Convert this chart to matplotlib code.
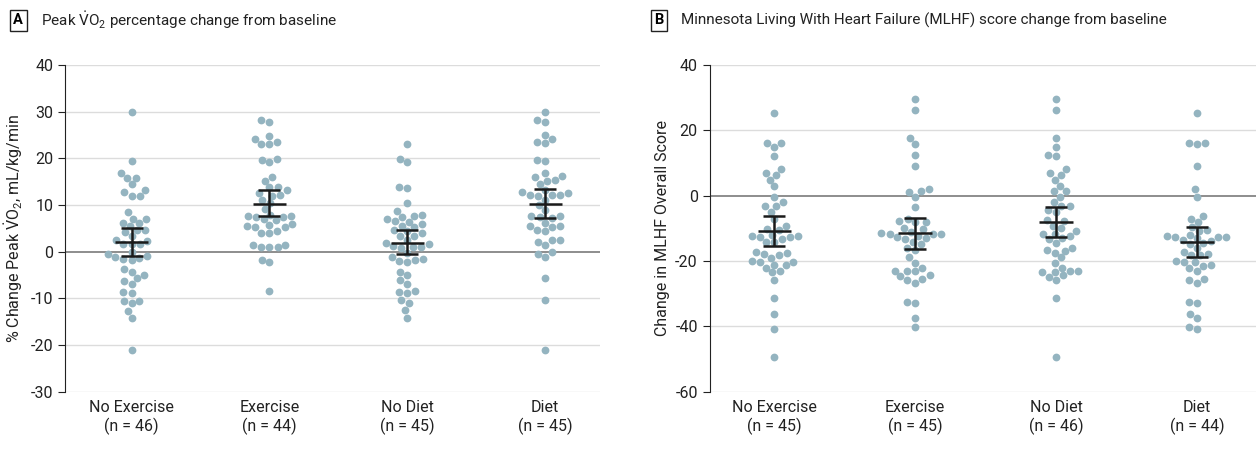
import matplotlib
matplotlib.use("Agg")
import matplotlib.pyplot as plt
import numpy as np
import pandas as pd
import seaborn as sns

plt.rcParams['font.family'] = ['Roboto', 'DejaVu Sans']
plt.rcParams['mathtext.fontset'] = 'custom'
plt.rcParams['mathtext.rm'] = 'Roboto'
plt.rcParams['mathtext.it'] = 'Roboto:italic'

# panel A: peak VO2 % change
a_labels = ["No Exercise\n(n = 46)", "Exercise\n(n = 44)", "No Diet\n(n = 45)", "Diet\n(n = 45)"]
a_no_ex = [29.9, 19.4, 16.9, 15.8, 15.8, 14.4, 13.3, 12.7, 12.0, 12.0,
           8.5, 7.1, 7.1, 6.1, 5.5, 6.2, 4.6, 4.3, 4.6, 3.4,
           2.5, 2.3, 1.6, 1.6, 1.6, -0.1, -0.5, -1.2, -1.6, -1.8,
           -1.4, -0.9, -3.7, -4.4, -5.0, -5.7, -6.2, -7.0, -8.6, -8.8,
           -10.5, -10.5, -11.0, -12.6, -14.1, -21.1]
a_ex = [27.8, 28.1, 24.1, 23.1, 23.1, 23.4, 24.8, 19.9, 19.1, 19.7,
        16.0, 15.2, 13.8, 12.6, 12.0, 12.2, 13.1, 13.9, 11.1, 10.4,
        9.1, 7.9, 7.6, 7.4, 6.7, 6.9, 7.4, 7.7, 5.9, 5.4,
        5.2, 4.1, 4.0, 4.5, 5.2, 5.7, 1.5, 1.0, 0.9, 1.0,
        1.4, -1.8, -2.3, -8.5]
a_no_diet = [23.1, 19.1, 19.9, 13.9, 13.7, 10.5, 8.6, 7.9, 7.7, 6.9,
             6.4, 5.6, 5.9, 6.6, 7.4, 5.2, 4.4, 3.4, 3.4, 4.1,
             4.6, 1.7, 1.0, 0.8, 0.9, 1.3, 1.9, 2.6, -0.3, -1.2,
             -1.9, -1.5, -2.3, -1.7, -4.9, -4.4, -6.1, -7.0, -8.5, -8.9,
             -8.6, -10.4, -11.0, -12.5, -14.1]
a_diet = [29.9, 27.8, 28.1, 24.9, 23.4, 23.2, 24.1, 19.4, 19.7, 16.9,
          15.9, 15.4, 15.2, 16.1, 14.5, 13.3, 12.6, 12.1, 11.9, 12.1,
          12.2, 12.7, 11.1, 10.0, 9.0, 7.7, 7.2, 7.4, 7.6, 6.2,
          5.4, 4.7, 4.4, 5.2, 5.6, 2.4, 1.4, 2.0, 2.6, -0.4,
          -1.1, -0.1, -5.7, -10.4, -21.0]
a_mean = [2.0, 10.3, 1.9, 10.3]
a_lo = [-0.9, 7.7, -0.6, 7.2]
a_hi = [5.0, 13.1, 4.6, 13.4]

# panel B: MLHF score change
b_labels = ["No Exercise\n(n = 45)", "Exercise\n(n = 45)", "No Diet\n(n = 46)", "Diet\n(n = 44)"]
b_no_ex = [25.4, 16.0, 15.0, 16.2, 12.1, 8.2, 6.4, 4.9, 7.0, 3.0,
           -0.3, -3.1, -3.1, -2.1, -4.9, -9.2, -10.6, -7.0, -10.2, -12.0,
           -12.3, -12.7, -14.3, -14.3, -13.3, -12.7, -12.3, -17.4, -18.2, -17.8,
           -17.2, -20.0, -20.3, -21.2, -23.0, -22.0, -23.5, -21.2, -20.2, -19.0,
           -25.8, -31.4, -36.2, -40.8, -49.4]
b_ex = [29.5, 26.1, 15.8, 17.6, 12.3, 9.2, 2.0, 1.2, -0.3, 1.5,
        -3.6, -7.0, -8.2, -8.2, -7.9, -9.8, -10.3, -12.2, -11.5, -11.7,
        -13.0, -14.1, -11.8, -11.8, -13.3, -12.6, -11.0, -14.8, -15.9, -16.6,
        -18.9, -20.5, -22.0, -23.0, -24.3, -25.4, -23.2, -26.6, -25.9, -23.0,
        -24.7, -32.4, -32.8, -37.3, -40.3]
b_no_diet = [29.5, 26.1, 17.6, 15.0, 12.2, 12.4, 8.2, 6.9, 6.4, 4.9,
             3.0, 1.3, 1.4, -0.3, -2.0, -3.1, -3.1, -4.9, -4.4, -7.9,
             -9.2, -7.5, -10.0, -11.8, -12.2, -13.3, -10.7, -13.0, -11.8, -14.5,
             -15.9, -16.8, -17.4, -16.6, -18.9, -20.6, -22.0, -23.2, -23.3, -24.4,
             -25.8, -24.8, -23.4, -23.1, -31.4, -49.4]
b_diet = [25.4, 16.0, 15.8, 16.1, 9.2, 2.0, -0.3, -7.1, -6.3, -8.2,
          -9.6, -10.8, -10.5, -12.6, -12.8, -13.1, -12.8, -12.5, -12.1, -13.5,
          -14.0, -14.7, -14.5, -16.0, -17.8, -18.3, -17.3, -18.3, -20.3, -21.4,
          -19.9, -21.1, -20.3, -23.1, -22.2, -25.9, -26.6, -25.5, -32.9, -32.4,
          -36.2, -37.4, -40.8, -40.3]
b_mean = [-10.8, -11.5, -8.1, -14.2]
b_lo = [-15.4, -16.2, -12.6, -18.7]
b_hi = [-6.2, -6.8, -3.5, -9.7]

dot_color = "#94B4C0"

fig = plt.figure(figsize=(12.56, 4.53), dpi=100)
axA = fig.add_axes([0.052, 0.135, 0.426, 0.722])
axB = fig.add_axes([0.565, 0.135, 0.435, 0.722])


def panel(ax, groups, labels, mean, lo, hi, yticks, xlim):
    rows = []
    for i, g in enumerate(groups):
        for v in g:
            rows.append((labels[i], v))
    df = pd.DataFrame(rows, columns=["grp", "val"])
    ax.set_xlim(*xlim)
    ax.set_ylim(yticks[0], yticks[-1])
    sns.swarmplot(data=df, x="grp", y="val", order=labels, color=dot_color,
                  size=5.6, linewidth=0, ax=ax, zorder=3, warn_thresh=1)
    ax.set_xlim(*xlim)
    ax.set_ylim(yticks[0], yticks[-1])
    x = np.arange(len(labels))
    m = np.array(mean)
    ax.errorbar(x, m, yerr=[m - np.array(lo), np.array(hi) - m], fmt="none",
                ecolor="#1a1a1a", elinewidth=1.8, capsize=8, capthick=1.8, zorder=5)
    ax.hlines(m, x - 0.12, x + 0.12, color="#1a1a1a", lw=1.8, zorder=5)
    ax.set_yticks(yticks)
    ax.set_yticklabels([str(t) if t >= 0 else "-" + str(-t) for t in yticks])
    for t in yticks:
        if t != 0:
            ax.axhline(t, color="#dcdcdc", lw=1, zorder=1)
    ax.axhline(0, color="#7a7a7a", lw=1.2, zorder=2)
    for s in ["top", "right", "bottom"]:
        ax.spines[s].set_visible(False)
    ax.spines["left"].set_color("#222222")
    ax.tick_params(axis="y", length=5, color="#222222", labelsize=11.5, colors="#222222")
    ax.tick_params(axis="x", length=0, labelsize=11.5, colors="#222222", pad=6)
    ax.set_xlabel("")


panel(axA, [a_no_ex, a_ex, a_no_diet, a_diet], a_labels, a_mean, a_lo, a_hi,
      list(range(-30, 41, 10)), (-0.48, 3.4))
panel(axB, [b_no_ex, b_ex, b_no_diet, b_diet], b_labels, b_mean, b_lo, b_hi,
      list(range(-60, 41, 20)), (-0.46, 3.42))

axA.set_ylabel(r"% Change Peak $\dot{\mathrm{V}}\mathrm{O}_2$, mL/kg/min", fontsize=11.5, color="#222222")
axB.set_ylabel("Change in MLHF Overall Score", fontsize=11.5, color="#222222")

box = dict(boxstyle="square,pad=0.25", fc="white", ec="#222222", lw=1)
fig.text(0.0105, 0.955, "A", fontsize=10.5, fontweight="bold", va="center", ha="left", bbox=box)
fig.text(0.033, 0.955, r"Peak $\dot{\mathrm{V}}\mathrm{O}_2$ percentage change from baseline",
         fontsize=11, va="center", ha="left", color="#222222")
fig.text(0.521, 0.955, "B", fontsize=10.5, fontweight="bold", va="center", ha="left", bbox=box)
fig.text(0.542, 0.955, "Minnesota Living With Heart Failure (MLHF) score change from baseline",
         fontsize=11, va="center", ha="left", color="#222222")

fig.savefig("out.png", dpi=100)
